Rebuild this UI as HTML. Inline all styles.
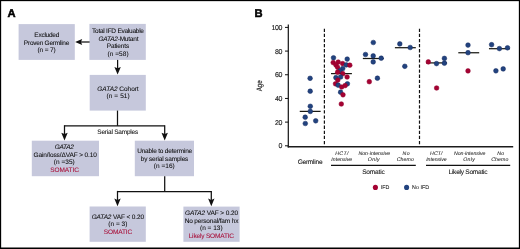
<!DOCTYPE html>
<html><head><meta charset="utf-8"><style>
html,body{margin:0;padding:0;background:#fff;}
body{width:520px;height:249px;overflow:hidden;position:relative;font-family:"Liberation Sans",sans-serif;}
svg{position:absolute;left:0;top:0;will-change:transform;}
text{font-family:"Liberation Sans",sans-serif;}
</style></head><body>
<svg width="520" height="249" viewBox="0 0 520 249">
<rect x="0" y="0" width="520" height="249" fill="#fff"/>
<rect x="18.6" y="24.1" width="56.20" height="35.80" fill="#c6c8dc"/>
<rect x="89.4" y="23.9" width="56.40" height="36.00" fill="#c6c8dc"/>
<rect x="89.7" y="74.9" width="56.10" height="35.70" fill="#c6c8dc"/>
<rect x="31.8" y="140.7" width="67.20" height="35.50" fill="#c6c8dc"/>
<rect x="134.8" y="140.7" width="59.20" height="35.50" fill="#c6c8dc"/>
<rect x="89.6" y="206.5" width="56.20" height="35.30" fill="#c6c8dc"/>
<rect x="183.4" y="206.6" width="56.20" height="35.20" fill="#c6c8dc"/>
<text x="46.85" y="36.9" font-size="6.5" fill="#0a0a0a" text-anchor="middle" textLength="25.0" lengthAdjust="spacing" text-rendering="geometricPrecision" stroke="#0a0a0a" stroke-width="0.06">Excluded</text>
<text x="46.6" y="44.6" font-size="6.5" fill="#0a0a0a" text-anchor="middle" textLength="45.5" lengthAdjust="spacing" text-rendering="geometricPrecision" stroke="#0a0a0a" stroke-width="0.06">Proven Germline</text>
<text x="46.6" y="51.95" font-size="6.5" fill="#0a0a0a" text-anchor="middle" textLength="18.3" lengthAdjust="spacing" text-rendering="geometricPrecision" stroke="#0a0a0a" stroke-width="0.06">(n = 7)</text>
<text x="118.0" y="32.7" font-size="6.5" fill="#0a0a0a" text-anchor="middle" textLength="51.9" lengthAdjust="spacing" text-rendering="geometricPrecision" stroke="#0a0a0a" stroke-width="0.06">Total IFD Evaluable</text>
<text x="118.45" y="40.6" font-size="6.5" fill="#0a0a0a" text-anchor="middle" textLength="40.0" lengthAdjust="spacing" text-rendering="geometricPrecision" stroke="#0a0a0a" stroke-width="0.06"><tspan font-style="italic">GATA2</tspan>-Mutant</text>
<text x="118.0" y="48.3" font-size="6.5" fill="#0a0a0a" text-anchor="middle" textLength="22.3" lengthAdjust="spacing" text-rendering="geometricPrecision" stroke="#0a0a0a" stroke-width="0.06">Patients</text>
<text x="118.0" y="55.65" font-size="6.5" fill="#0a0a0a" text-anchor="middle" textLength="21.1" lengthAdjust="spacing" text-rendering="geometricPrecision" stroke="#0a0a0a" stroke-width="0.06">(n =58)</text>
<text x="118.0" y="90.8" font-size="6.5" fill="#0a0a0a" text-anchor="middle" textLength="41.3" lengthAdjust="spacing" text-rendering="geometricPrecision" stroke="#0a0a0a" stroke-width="0.06"><tspan font-style="italic">GATA2</tspan> Cohort</text>
<text x="118.1" y="98.35" font-size="6.5" fill="#0a0a0a" text-anchor="middle" textLength="23.3" lengthAdjust="spacing" text-rendering="geometricPrecision" stroke="#0a0a0a" stroke-width="0.06">(n = 51)</text>
<text x="117.75" y="134.2" font-size="6.5" fill="#0a0a0a" text-anchor="middle" textLength="40.8" lengthAdjust="spacing" text-rendering="geometricPrecision" stroke="#0a0a0a" stroke-width="0.06">Serial Samples</text>
<text x="64.25" y="149.0" font-size="6.5" fill="#0a0a0a" text-anchor="middle" textLength="19.2" lengthAdjust="spacing" text-rendering="geometricPrecision" stroke="#0a0a0a" stroke-width="0.06"><tspan font-style="italic">GATA2</tspan></text>
<text x="65.25" y="156.9" font-size="6.5" fill="#0a0a0a" text-anchor="middle" textLength="63.4" lengthAdjust="spacing" text-rendering="geometricPrecision" stroke="#0a0a0a" stroke-width="0.06">Gain/loss/ΔVAF &gt; 0.10</text>
<text x="64.25" y="164.15" font-size="6.5" fill="#0a0a0a" text-anchor="middle" textLength="21.0" lengthAdjust="spacing" text-rendering="geometricPrecision" stroke="#0a0a0a" stroke-width="0.06">(n =35)</text>
<text x="64.55" y="171.8" font-size="6.5" fill="#a80c36" text-anchor="middle" textLength="28.8" lengthAdjust="spacing" text-rendering="geometricPrecision" stroke="#a80c36" stroke-width="0.06">SOMATIC</text>
<text x="164.7" y="152.9" font-size="6.5" fill="#0a0a0a" text-anchor="middle" textLength="55.1" lengthAdjust="spacing" text-rendering="geometricPrecision" stroke="#0a0a0a" stroke-width="0.06">Unable to determine</text>
<text x="164.55" y="160.8" font-size="6.5" fill="#0a0a0a" text-anchor="middle" textLength="47.6" lengthAdjust="spacing" text-rendering="geometricPrecision" stroke="#0a0a0a" stroke-width="0.06">by serial samples</text>
<text x="164.25" y="168.15" font-size="6.5" fill="#0a0a0a" text-anchor="middle" textLength="21.0" lengthAdjust="spacing" text-rendering="geometricPrecision" stroke="#0a0a0a" stroke-width="0.06">(n =16)</text>
<text x="117.85" y="219.0" font-size="6.5" fill="#0a0a0a" text-anchor="middle" textLength="52.4" lengthAdjust="spacing" text-rendering="geometricPrecision" stroke="#0a0a0a" stroke-width="0.06"><tspan font-style="italic">GATA2</tspan> VAF &lt; 0.20</text>
<text x="117.85" y="226.35" font-size="6.5" fill="#0a0a0a" text-anchor="middle" textLength="19.0" lengthAdjust="spacing" text-rendering="geometricPrecision" stroke="#0a0a0a" stroke-width="0.06">(n = 3)</text>
<text x="118.0" y="233.8" font-size="6.5" fill="#a80c36" text-anchor="middle" textLength="28.3" lengthAdjust="spacing" text-rendering="geometricPrecision" stroke="#a80c36" stroke-width="0.06">SOMATIC</text>
<text x="211.55" y="215.0" font-size="6.5" fill="#0a0a0a" text-anchor="middle" textLength="53.0" lengthAdjust="spacing" text-rendering="geometricPrecision" stroke="#0a0a0a" stroke-width="0.06"><tspan font-style="italic">GATA2</tspan> VAF &gt; 0.20</text>
<text x="211.55" y="222.8" font-size="6.5" fill="#0a0a0a" text-anchor="middle" textLength="53.8" lengthAdjust="spacing" text-rendering="geometricPrecision" stroke="#0a0a0a" stroke-width="0.06">No personal/fam hx</text>
<text x="211.3" y="230.25" font-size="6.5" fill="#0a0a0a" text-anchor="middle" textLength="22.7" lengthAdjust="spacing" text-rendering="geometricPrecision" stroke="#0a0a0a" stroke-width="0.06">(n = 13)</text>
<text x="211.35000000000002" y="238.1" font-size="6.5" fill="#a80c36" text-anchor="middle" textLength="45.4" lengthAdjust="spacing" text-rendering="geometricPrecision" stroke="#a80c36" stroke-width="0.06">Likely SOMATIC</text>
<line x1="80.5" y1="42" x2="89.6" y2="42" stroke="#111" stroke-width="1.25"/>
<path d="M75.1 42 L82.19999999999999 39.0 L81.0 42 L82.19999999999999 45.0 Z" fill="#111"/>
<line x1="117.6" y1="59.9" x2="117.6" y2="70" stroke="#111" stroke-width="1.25"/>
<path d="M117.6 74.6 L114.39999999999999 67.0 L117.6 68.3 L120.8 67.0 Z" fill="#111"/>
<line x1="117.5" y1="110.6" x2="117.5" y2="125.8" stroke="#111" stroke-width="1.25"/>
<line x1="64.5" y1="125.8" x2="164.7" y2="125.8" stroke="#111" stroke-width="1.25"/>
<line x1="64.5" y1="125.2" x2="64.5" y2="135" stroke="#111" stroke-width="1.25"/>
<line x1="164.7" y1="125.2" x2="164.7" y2="135" stroke="#111" stroke-width="1.25"/>
<path d="M64.5 140.4 L61.3 132.8 L64.5 134.1 L67.7 132.8 Z" fill="#111"/>
<path d="M164.7 140.4 L161.5 132.8 L164.7 134.1 L167.89999999999998 132.8 Z" fill="#111"/>
<line x1="164.7" y1="176.2" x2="164.7" y2="191.5" stroke="#111" stroke-width="1.25"/>
<line x1="117.5" y1="191.5" x2="211.3" y2="191.5" stroke="#111" stroke-width="1.25"/>
<line x1="117.5" y1="190.9" x2="117.5" y2="201" stroke="#111" stroke-width="1.25"/>
<line x1="211.3" y1="190.9" x2="211.3" y2="201" stroke="#111" stroke-width="1.25"/>
<path d="M117.5 206.2 L114.3 198.6 L117.5 199.89999999999998 L120.7 198.6 Z" fill="#111"/>
<path d="M211.3 206.2 L208.10000000000002 198.6 L211.3 199.89999999999998 L214.5 198.6 Z" fill="#111"/>
<text x="7.4" y="16.6" font-size="11.2" fill="#000" text-anchor="start" text-rendering="geometricPrecision" font-weight="bold" stroke="#000" stroke-width="0.5">A</text>
<text x="254.6" y="17.1" font-size="11.2" fill="#000" text-anchor="start" text-rendering="geometricPrecision" font-weight="bold" stroke="#000" stroke-width="0.5">B</text>
<line x1="288.3" y1="24.4" x2="288.3" y2="147.4" stroke="#111" stroke-width="1.2"/>
<line x1="287.7" y1="146.7" x2="513.2" y2="146.7" stroke="#1c1c1c" stroke-width="1.6"/>
<line x1="285.0" y1="145.8" x2="288.3" y2="145.8" stroke="#111" stroke-width="1.0"/>
<text x="282.5" y="148.45000000000002" font-size="7.0" fill="#1a1a1a" text-anchor="end" textLength="3.7" lengthAdjust="spacing" text-rendering="geometricPrecision" stroke="#1a1a1a" stroke-width="0.14">0</text>
<line x1="285.0" y1="122.12" x2="288.3" y2="122.12" stroke="#111" stroke-width="1.0"/>
<text x="282.5" y="124.77000000000001" font-size="7.0" fill="#1a1a1a" text-anchor="end" textLength="7.39" lengthAdjust="spacing" text-rendering="geometricPrecision" stroke="#1a1a1a" stroke-width="0.14">20</text>
<line x1="285.0" y1="98.44000000000001" x2="288.3" y2="98.44000000000001" stroke="#111" stroke-width="1.0"/>
<text x="282.5" y="101.09000000000002" font-size="7.0" fill="#1a1a1a" text-anchor="end" textLength="7.39" lengthAdjust="spacing" text-rendering="geometricPrecision" stroke="#1a1a1a" stroke-width="0.14">40</text>
<line x1="285.0" y1="74.76000000000002" x2="288.3" y2="74.76000000000002" stroke="#111" stroke-width="1.0"/>
<text x="282.5" y="77.41000000000003" font-size="7.0" fill="#1a1a1a" text-anchor="end" textLength="7.39" lengthAdjust="spacing" text-rendering="geometricPrecision" stroke="#1a1a1a" stroke-width="0.14">60</text>
<line x1="285.0" y1="51.08000000000001" x2="288.3" y2="51.08000000000001" stroke="#111" stroke-width="1.0"/>
<text x="282.5" y="53.73000000000001" font-size="7.0" fill="#1a1a1a" text-anchor="end" textLength="7.39" lengthAdjust="spacing" text-rendering="geometricPrecision" stroke="#1a1a1a" stroke-width="0.14">80</text>
<line x1="285.0" y1="27.40000000000002" x2="288.3" y2="27.40000000000002" stroke="#111" stroke-width="1.0"/>
<text x="282.5" y="30.05000000000002" font-size="7.0" fill="#1a1a1a" text-anchor="end" textLength="11.09" lengthAdjust="spacing" text-rendering="geometricPrecision" stroke="#1a1a1a" stroke-width="0.14">100</text>
<text x="0" y="0" font-size="7.8" fill="#111" stroke="#111" stroke-width="0.12" text-anchor="middle" textLength="11.0" lengthAdjust="spacingAndGlyphs" text-rendering="geometricPrecision" transform="translate(262.2 85.8) rotate(-90)">Age</text>
<line x1="324.4" y1="28.7" x2="324.4" y2="144.5" stroke="#111" stroke-width="1.2" stroke-dasharray="3.3 1.8"/>
<line x1="419.5" y1="28.7" x2="419.5" y2="144.5" stroke="#111" stroke-width="1.2" stroke-dasharray="3.3 1.8"/>
<line x1="299.75" y1="111.4" x2="320.65" y2="111.4" stroke="#1a1a14" stroke-width="1.25"/>
<line x1="331.0" y1="73.6" x2="351.9" y2="73.6" stroke="#1a1a14" stroke-width="1.25"/>
<line x1="362.85" y1="58.5" x2="383.75" y2="58.5" stroke="#1a1a14" stroke-width="1.25"/>
<line x1="394.90000000000003" y1="47.7" x2="415.8" y2="47.7" stroke="#1a1a14" stroke-width="1.25"/>
<line x1="426.15000000000003" y1="62.9" x2="447.05" y2="62.9" stroke="#1a1a14" stroke-width="1.25"/>
<line x1="458.3" y1="52.75" x2="479.2" y2="52.75" stroke="#1a1a14" stroke-width="1.25"/>
<line x1="488.95" y1="48.7" x2="509.84999999999997" y2="48.7" stroke="#1a1a14" stroke-width="1.25"/>
<circle cx="310.1" cy="78.3" r="2.35" fill="#22437f" stroke="#152b60" stroke-width="0.5"/>
<circle cx="310.2" cy="91.2" r="2.35" fill="#22437f" stroke="#152b60" stroke-width="0.5"/>
<circle cx="310.3" cy="106.3" r="2.35" fill="#22437f" stroke="#152b60" stroke-width="0.5"/>
<circle cx="310.3" cy="111.4" r="2.35" fill="#22437f" stroke="#152b60" stroke-width="0.5"/>
<circle cx="305.2" cy="117.2" r="2.35" fill="#22437f" stroke="#152b60" stroke-width="0.5"/>
<circle cx="315.7" cy="120.8" r="2.35" fill="#22437f" stroke="#152b60" stroke-width="0.5"/>
<circle cx="305.3" cy="123.5" r="2.35" fill="#22437f" stroke="#152b60" stroke-width="0.5"/>
<circle cx="333.5" cy="57.8" r="2.35" fill="#22437f" stroke="#152b60" stroke-width="0.5"/>
<circle cx="347.2" cy="59.1" r="2.35" fill="#22437f" stroke="#152b60" stroke-width="0.5"/>
<circle cx="333.2" cy="62.6" r="2.35" fill="#a40232" stroke="#90012c" stroke-width="0.5"/>
<circle cx="338.2" cy="62.1" r="2.35" fill="#a40232" stroke="#90012c" stroke-width="0.5"/>
<circle cx="342.6" cy="63.6" r="2.35" fill="#a40232" stroke="#90012c" stroke-width="0.5"/>
<circle cx="335.9" cy="64.9" r="2.35" fill="#a40232" stroke="#90012c" stroke-width="0.5"/>
<circle cx="337.6" cy="67.3" r="2.35" fill="#a40232" stroke="#90012c" stroke-width="0.5"/>
<circle cx="346.2" cy="64.9" r="2.35" fill="#22437f" stroke="#152b60" stroke-width="0.5"/>
<circle cx="349.8" cy="65.2" r="2.35" fill="#a40232" stroke="#90012c" stroke-width="0.5"/>
<circle cx="342.7" cy="68.6" r="2.35" fill="#22437f" stroke="#152b60" stroke-width="0.5"/>
<circle cx="340.0" cy="70.8" r="2.35" fill="#22437f" stroke="#152b60" stroke-width="0.5"/>
<circle cx="337.6" cy="72.2" r="2.35" fill="#a40232" stroke="#90012c" stroke-width="0.5"/>
<circle cx="342.8" cy="73.7" r="2.35" fill="#a40232" stroke="#90012c" stroke-width="0.5"/>
<circle cx="335.9" cy="77.7" r="2.35" fill="#22437f" stroke="#152b60" stroke-width="0.5"/>
<circle cx="340.6" cy="77.0" r="2.35" fill="#22437f" stroke="#152b60" stroke-width="0.5"/>
<circle cx="347.1" cy="77.0" r="2.35" fill="#a40232" stroke="#90012c" stroke-width="0.5"/>
<circle cx="337.8" cy="80.1" r="2.35" fill="#a40232" stroke="#90012c" stroke-width="0.5"/>
<circle cx="335.5" cy="83.8" r="2.35" fill="#a40232" stroke="#90012c" stroke-width="0.5"/>
<circle cx="338.2" cy="85.2" r="2.35" fill="#22437f" stroke="#152b60" stroke-width="0.5"/>
<circle cx="341.7" cy="87.0" r="2.35" fill="#a40232" stroke="#90012c" stroke-width="0.5"/>
<circle cx="347.4" cy="83.8" r="2.35" fill="#22437f" stroke="#152b60" stroke-width="0.5"/>
<circle cx="345.1" cy="85.6" r="2.35" fill="#a40232" stroke="#90012c" stroke-width="0.5"/>
<circle cx="340.6" cy="92.2" r="2.35" fill="#22437f" stroke="#152b60" stroke-width="0.5"/>
<circle cx="343.0" cy="94.8" r="2.35" fill="#a40232" stroke="#90012c" stroke-width="0.5"/>
<circle cx="341.3" cy="104.0" r="2.35" fill="#a40232" stroke="#90012c" stroke-width="0.5"/>
<circle cx="373.3" cy="42.5" r="2.35" fill="#22437f" stroke="#152b60" stroke-width="0.5"/>
<circle cx="365.5" cy="54.5" r="2.35" fill="#22437f" stroke="#152b60" stroke-width="0.5"/>
<circle cx="373.2" cy="55.9" r="2.35" fill="#22437f" stroke="#152b60" stroke-width="0.5"/>
<circle cx="381.2" cy="58.2" r="2.35" fill="#22437f" stroke="#152b60" stroke-width="0.5"/>
<circle cx="373.2" cy="61.9" r="2.35" fill="#22437f" stroke="#152b60" stroke-width="0.5"/>
<circle cx="377.4" cy="78.2" r="2.35" fill="#22437f" stroke="#152b60" stroke-width="0.5"/>
<circle cx="369.3" cy="81.7" r="2.35" fill="#a40232" stroke="#90012c" stroke-width="0.5"/>
<circle cx="399.8" cy="43.9" r="2.35" fill="#22437f" stroke="#152b60" stroke-width="0.5"/>
<circle cx="410.2" cy="47.5" r="2.35" fill="#22437f" stroke="#152b60" stroke-width="0.5"/>
<circle cx="404.8" cy="66.3" r="2.35" fill="#22437f" stroke="#152b60" stroke-width="0.5"/>
<circle cx="428.3" cy="61.9" r="2.35" fill="#a40232" stroke="#90012c" stroke-width="0.5"/>
<circle cx="436.5" cy="63.6" r="2.35" fill="#22437f" stroke="#152b60" stroke-width="0.5"/>
<circle cx="444.4" cy="58.4" r="2.35" fill="#22437f" stroke="#152b60" stroke-width="0.5"/>
<circle cx="444.4" cy="63.2" r="2.35" fill="#22437f" stroke="#152b60" stroke-width="0.5"/>
<circle cx="436.6" cy="88.0" r="2.35" fill="#a40232" stroke="#90012c" stroke-width="0.5"/>
<circle cx="468.0" cy="45.1" r="2.35" fill="#22437f" stroke="#152b60" stroke-width="0.5"/>
<circle cx="468.0" cy="52.7" r="2.35" fill="#22437f" stroke="#152b60" stroke-width="0.5"/>
<circle cx="468.0" cy="70.9" r="2.35" fill="#a40232" stroke="#90012c" stroke-width="0.5"/>
<circle cx="491.6" cy="44.7" r="2.35" fill="#22437f" stroke="#152b60" stroke-width="0.5"/>
<circle cx="499.4" cy="48.6" r="2.35" fill="#22437f" stroke="#152b60" stroke-width="0.5"/>
<circle cx="507.5" cy="47.8" r="2.35" fill="#22437f" stroke="#152b60" stroke-width="0.5"/>
<circle cx="495.9" cy="70.8" r="2.35" fill="#22437f" stroke="#152b60" stroke-width="0.5"/>
<circle cx="503.2" cy="68.9" r="2.35" fill="#22437f" stroke="#152b60" stroke-width="0.5"/>
<text x="341.85" y="154.7" font-size="5.2" fill="#1a1a1a" text-anchor="middle" font-style="italic" textLength="13.2" lengthAdjust="spacing" text-rendering="geometricPrecision" stroke="#1a1a1a" stroke-width="0.05">HCT/</text>
<text x="341.75" y="160.8" font-size="5.2" fill="#1a1a1a" text-anchor="middle" font-style="italic" textLength="20.8" lengthAdjust="spacing" text-rendering="geometricPrecision" stroke="#1a1a1a" stroke-width="0.05">Intensive</text>
<text x="374.35" y="154.7" font-size="5.2" fill="#1a1a1a" text-anchor="middle" font-style="italic" textLength="31.8" lengthAdjust="spacing" text-rendering="geometricPrecision" stroke="#1a1a1a" stroke-width="0.05">Non-intensive</text>
<text x="373.65" y="160.8" font-size="5.2" fill="#1a1a1a" text-anchor="middle" font-style="italic" textLength="11.8" lengthAdjust="spacing" text-rendering="geometricPrecision" stroke="#1a1a1a" stroke-width="0.05">Only</text>
<text x="406.15" y="154.7" font-size="5.2" fill="#1a1a1a" text-anchor="middle" font-style="italic" textLength="7.2" lengthAdjust="spacing" text-rendering="geometricPrecision" stroke="#1a1a1a" stroke-width="0.05">No</text>
<text x="405.35" y="160.8" font-size="5.2" fill="#1a1a1a" text-anchor="middle" font-style="italic" textLength="17.2" lengthAdjust="spacing" text-rendering="geometricPrecision" stroke="#1a1a1a" stroke-width="0.05">Chemo</text>
<text x="436.25" y="154.7" font-size="5.2" fill="#1a1a1a" text-anchor="middle" font-style="italic" textLength="12.4" lengthAdjust="spacing" text-rendering="geometricPrecision" stroke="#1a1a1a" stroke-width="0.05">HCT/</text>
<text x="436.4" y="160.8" font-size="5.2" fill="#1a1a1a" text-anchor="middle" font-style="italic" textLength="20.5" lengthAdjust="spacing" text-rendering="geometricPrecision" stroke="#1a1a1a" stroke-width="0.05">Intensive</text>
<text x="469.70000000000005" y="154.7" font-size="5.2" fill="#1a1a1a" text-anchor="middle" font-style="italic" textLength="31.5" lengthAdjust="spacing" text-rendering="geometricPrecision" stroke="#1a1a1a" stroke-width="0.05">Non-intensive</text>
<text x="469.05" y="160.8" font-size="5.2" fill="#1a1a1a" text-anchor="middle" font-style="italic" textLength="11.8" lengthAdjust="spacing" text-rendering="geometricPrecision" stroke="#1a1a1a" stroke-width="0.05">Only</text>
<text x="500.75" y="154.7" font-size="5.2" fill="#1a1a1a" text-anchor="middle" font-style="italic" textLength="6.8" lengthAdjust="spacing" text-rendering="geometricPrecision" stroke="#1a1a1a" stroke-width="0.05">No</text>
<text x="499.85" y="160.8" font-size="5.2" fill="#1a1a1a" text-anchor="middle" font-style="italic" textLength="17.2" lengthAdjust="spacing" text-rendering="geometricPrecision" stroke="#1a1a1a" stroke-width="0.05">Chemo</text>
<text x="310.1" y="163.7" font-size="6.6" fill="#151515" text-anchor="middle" textLength="24.9" lengthAdjust="spacing" text-rendering="geometricPrecision" stroke="#151515" stroke-width="0.08">Germline</text>
<line x1="331" y1="165.3" x2="415.8" y2="165.3" stroke="#111" stroke-width="1.3"/>
<line x1="426" y1="165.3" x2="510.2" y2="165.3" stroke="#111" stroke-width="1.3"/>
<text x="373.45" y="173.7" font-size="6.6" fill="#151515" text-anchor="middle" textLength="22.6" lengthAdjust="spacing" text-rendering="geometricPrecision" stroke="#151515" stroke-width="0.08">Somatic</text>
<text x="468.0" y="173.7" font-size="6.6" fill="#151515" text-anchor="middle" textLength="38.9" lengthAdjust="spacing" text-rendering="geometricPrecision" stroke="#151515" stroke-width="0.08">Likely Somatic</text>
<circle cx="375.4" cy="187.4" r="2.55" fill="#a40232"/>
<circle cx="406.6" cy="187.4" r="2.55" fill="#22437f"/>
<text x="381.0" y="189.2" font-size="5.3" fill="#222" text-anchor="start" textLength="8.3" lengthAdjust="spacing" text-rendering="geometricPrecision" stroke="#222" stroke-width="0.06">IFD</text>
<text x="412.0" y="189.2" font-size="5.3" fill="#222" text-anchor="start" textLength="17.2" lengthAdjust="spacing" text-rendering="geometricPrecision" stroke="#222" stroke-width="0.06">No IFD</text>
<rect x="0" y="0" width="520" height="1.15" fill="#000"/>
<rect x="0" y="0" width="1.15" height="249" fill="#000"/>
<rect x="518.85" y="0" width="1.15" height="249" fill="#000"/>
<rect x="0" y="247.5" width="520" height="1.5" fill="#000"/>
</svg>
</body></html>
